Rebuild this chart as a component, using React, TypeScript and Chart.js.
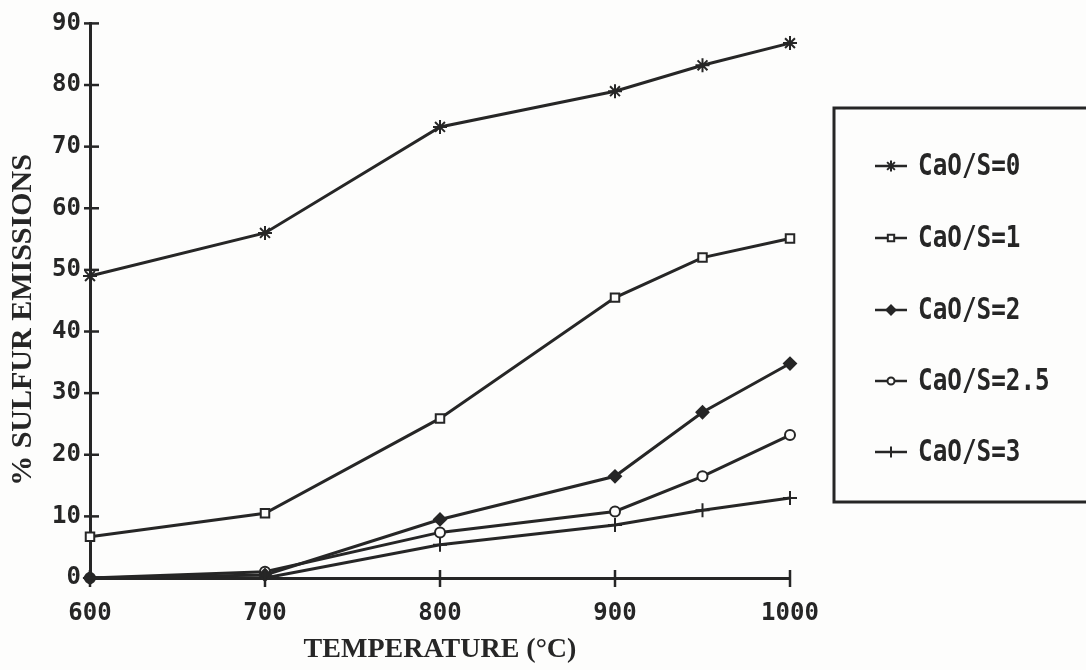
import React, { useEffect, useRef } from "react";
import { Chart, registerables } from "chart.js";
import { drawPoint } from "chart.js/helpers";

Chart.register(...registerables);

const temperatures = [600, 700, 800, 900, 950, 1000];
const seriesLabels = ["CaO/S=0", "CaO/S=1", "CaO/S=2", "CaO/S=2.5", "CaO/S=3"];
const cao0 = [49, 56, 73.2, 79, 83.2, 86.8];
const cao1 = [6.7, 10.5, 25.9, 45.5, 52, 55.1];
const cao2 = [0, 0.5, 9.5, 16.5, 26.9, 34.8];
const cao25 = [0, 1.0, 7.4, 10.8, 16.5, 23.2];
const cao3 = [0, 0, 5.4, 8.6, 11, 13];
const xTicks = [600, 700, 800, 900, 1000];
const yTicks = [0, 10, 20, 30, 40, 50, 60, 70, 80, 90];
const xTitle = "TEMPERATURE (°C)";
const yTitle = "% SULFUR EMISSIONS";

const INK = "#262626";
const BG = "#fdfdfc";
const MONO = "'DejaVu Sans Mono', monospace";
const SERIF = "'Liberation Serif', serif";

const styles = [
  { pointStyle: "star", radius: 7, fill: INK },
  { pointStyle: "rect", radius: 6, fill: BG },
  { pointStyle: "rectRot", radius: 6, fill: INK },
  { pointStyle: "circle", radius: 5, fill: BG },
  { pointStyle: "cross", radius: 7, fill: INK },
];

const seriesValues = [cao0, cao1, cao2, cao25, cao3];

const decor = {
  id: "decor",
  beforeDraw(chart: any) {
    const ctx = chart.ctx;
    ctx.save();
    ctx.fillStyle = BG;
    ctx.fillRect(0, 0, chart.width, chart.height);
    ctx.restore();
  },
  afterDraw(chart: any) {
    const ctx = chart.ctx;
    const xs = chart.scales.x;
    const ys = chart.scales.y;
    ctx.save();
    ctx.strokeStyle = INK;
    ctx.fillStyle = INK;
    ctx.lineWidth = 2.5;
    // cross tick marks
    for (const v of xTicks) {
      const px = xs.getPixelForValue(v);
      ctx.beginPath();
      ctx.moveTo(px, ys.bottom - 8);
      ctx.lineTo(px, ys.bottom + 9);
      ctx.stroke();
    }
    for (const v of yTicks) {
      const py = ys.getPixelForValue(v);
      ctx.beginPath();
      ctx.moveTo(xs.left - 6, py);
      ctx.lineTo(xs.left + 9, py);
      ctx.stroke();
    }
    // axis titles
    ctx.textAlign = "center";
    ctx.textBaseline = "middle";
    ctx.font = `bold 28px ${SERIF}`;
    ctx.fillText(xTitle, (xs.left + xs.right) / 2, 650);
    ctx.save();
    ctx.translate(23, 320);
    ctx.rotate(-Math.PI / 2);
    ctx.font = `bold 30px ${SERIF}`;
    ctx.fillText(yTitle, 0, 0);
    ctx.restore();
    // legend box
    ctx.lineWidth = 3;
    ctx.strokeRect(834, 108, 300, 394);
    const rowY = [166, 238, 310, 381, 452];
    seriesLabels.forEach((label, i) => {
      const cy = rowY[i];
      ctx.lineWidth = 2.5;
      ctx.beginPath();
      ctx.moveTo(875, cy);
      ctx.lineTo(907, cy);
      ctx.stroke();
      ctx.fillStyle = styles[i].fill;
      ctx.strokeStyle = INK;
      ctx.lineWidth = 2;
      drawPoint(ctx, { pointStyle: styles[i].pointStyle, radius: styles[i].radius - 1.5, rotation: 0, borderWidth: 2 } as any, 891, cy);
      ctx.fillStyle = INK;
      ctx.save();
      ctx.translate(918, cy);
      ctx.scale(0.81, 1);
      ctx.font = `bold 30px ${MONO}`;
      ctx.textAlign = "left";
      ctx.textBaseline = "middle";
      ctx.fillText(label, 0, 1);
      ctx.restore();
    });
    ctx.restore();
  },
};

export default function App() {
  const canvasRef = useRef<HTMLCanvasElement | null>(null);

  useEffect(() => {
    document.body.style.margin = "0";
    const canvas = canvasRef.current;
    if (!canvas) return;
    const datasets = seriesLabels.map((label, i) => ({
      label,
      data: temperatures.map((t, j) => ({ x: t, y: seriesValues[i][j] })),
      borderColor: INK,
      borderWidth: 3,
      backgroundColor: styles[i].fill,
      pointStyle: styles[i].pointStyle as any,
      pointRadius: styles[i].radius,
      pointBorderColor: INK,
      pointBackgroundColor: styles[i].fill,
      pointBorderWidth: 2,
      tension: 0,
      fill: false,
      clip: false as any,
    }));
    const chart = new Chart(canvas, {
      type: "line",
      data: { datasets },
      options: {
        animation: false,
        responsive: false,
        maintainAspectRatio: false,
        devicePixelRatio: 1,
        layout: { padding: { left: 0, right: 296, top: 23, bottom: 0 } },
        plugins: {
          legend: { display: false },
          tooltip: { enabled: false },
        },
        scales: {
          x: {
            type: "linear",
            min: 600,
            max: 1000,
            afterFit(scale: any) {
              scale.height = 92;
            },
            afterBuildTicks(scale: any) {
              scale.ticks = xTicks.map((v) => ({ value: v }));
            },
            grid: { display: false, drawTicks: false },
            border: { display: true, color: INK, width: 3 },
            ticks: {
              color: INK,
              padding: 21,
              maxRotation: 0,
              callback: (v: any) => String(v),
              font: { family: MONO, size: 24, weight: "bold" },
            },
            title: { display: false },
          },
          y: {
            type: "linear",
            min: 0,
            max: 90,
            afterFit(scale: any) {
              scale.width = 90;
            },
            afterBuildTicks(scale: any) {
              scale.ticks = yTicks.map((v) => ({ value: v }));
            },
            grid: { display: false, drawTicks: false },
            border: { display: true, color: INK, width: 3 },
            ticks: {
              color: INK,
              padding: 9,
              callback: (v: any) => String(v),
              font: { family: MONO, size: 24, weight: "bold" },
            },
            title: { display: false },
          },
        },
      },
      plugins: [decor],
    });
    return () => chart.destroy();
  }, []);

  return (
    <div style={{ position: "relative", width: 1086, height: 670 }}>
      <canvas ref={canvasRef} width={1086} height={670} style={{ display: "block" }} />
    </div>
  );
}
